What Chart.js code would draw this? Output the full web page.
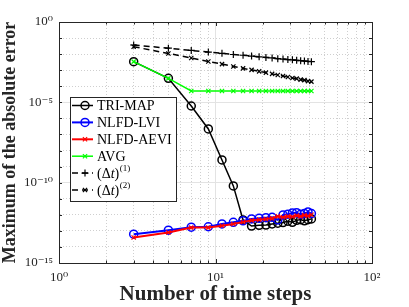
<!DOCTYPE html>
<html>
<head>
<meta charset="utf-8">
<script src="https://cdn.jsdelivr.net/npm/chart.js@4/dist/chart.umd.min.js"></script>
<style>
html, body { margin: 0; padding: 0; background: #fff; }
</style>
</head>
<body>
<canvas id="myChart" width="409" height="307"></canvas>
<script>
// number of time steps
const steps = [3, 5, 7, 9, 11, 13, 15, 17, 19, 21, 23, 25, 27, 29, 31, 33, 35, 37, 39, 41];

const triMap = [3.4e-3, 3.1e-4, 5.9e-6, 2.2e-7, 2.6e-9, 6.3e-11, 4.8e-13, 2.0e-13, 2.2e-13, 2.3e-13,
  2.7e-13, 3.0e-13, 3.3e-13, 4.0e-13, 3.4e-13, 4.5e-13, 5.0e-13, 4.2e-13, 5.0e-13, 5.5e-13];
const nlfdLvi = [6.2e-14, 1.1e-13, 1.7e-13, 1.8e-13, 2.7e-13, 3.4e-13, 4.2e-13, 5.5e-13, 6.0e-13, 6.6e-13,
  7.0e-13, 4.8e-13, 9.8e-13, 1.1e-12, 1.3e-12, 1.35e-12, 1.07e-12, 1.2e-12, 1.5e-12, 1.2e-12];
const nlfdAevi = [3.9e-14, 8.0e-14, 1.6e-13, 1.6e-13, 2.1e-13, 2.7e-13, 3.6e-13, 4.5e-13, 5.0e-13, 5.5e-13,
  6.0e-13, 8.0e-13, 7.0e-13, 8.0e-13, 7.5e-13, 9.0e-13, 8.0e-13, 9.5e-13, 8.5e-13, 1.0e-12];
const avg = [3.4e-3, 3.1e-4, 5.1e-5, 5.1e-5, 5.1e-5, 5.1e-5, 5.1e-5, 5.1e-5, 5.1e-5, 5.1e-5,
  5.1e-5, 5.1e-5, 5.1e-5, 5.1e-5, 5.1e-5, 5.1e-5, 5.1e-5, 5.1e-5, 5.1e-5, 5.1e-5];
const dt1 = [0.037, 0.0234, 0.0170, 0.0135, 0.0112, 0.0095, 0.0085, 0.0076, 0.0068, 0.0062,
  0.0058, 0.0052, 0.0049, 0.0046, 0.0044, 0.0041, 0.0039, 0.0037, 0.0035, 0.0034];
const dt2 = [0.029, 0.011, 0.0058, 0.0035, 0.0024, 0.0017, 0.0013, 0.00105, 0.00085, 0.00071,
  0.00059, 0.0005, 0.00044, 0.00038, 0.00033, 0.0003, 0.00026, 0.00024, 0.00021, 0.000195];

// tick values
const xTicks = [1, 2, 3, 4, 5, 6, 7, 8, 9, 10, 20, 30, 40, 50, 60, 70, 80, 90, 100];
const xLabels = [1, 10, 100];
const yTicks = [1e-15, 1e-14, 1e-13, 1e-12, 1e-11, 1e-10, 1e-9, 1e-8, 1e-7, 1e-6, 1e-5, 1e-4, 1e-3, 1e-2, 1e-1, 1];
const yLabels = [1e-15, 1e-10, 1e-5, 1];

const serif = "'Liberation Serif', 'DejaVu Serif', serif";

function sup(n) {
  const map = {'-': '⁻', '0': '⁰', '1': '¹', '2': '²', '3': '³', '4': '⁴', '5': '⁵', '6': '⁶', '7': '⁷', '8': '⁸', '9': '⁹'};
  return String(n).split('').map(c => map[c]).join('');
}
function expOf(v) { return Math.round(Math.log10(v)); }
function pts(ys) { return steps.map((s, i) => ({x: s, y: ys[i]})); }

// later series are drawn on top, like matlab does
let drawOrder = 0;
function series(label, ys, color, style, radius, width, dash) {
  drawOrder -= 1;
  return {
    label: label,
    data: pts(ys),
    order: drawOrder,
    borderColor: color,
    backgroundColor: color,
    borderWidth: width,
    borderDash: dash || [],
    pointStyle: style,
    pointRadius: radius,
    pointBorderColor: color,
    pointBackgroundColor: 'rgba(0,0,0,0)',
    pointBorderWidth: style === 'circle' ? 1.5 : 1.2,
    tension: 0
  };
}

// box round the axes, inside ticks and the legend
const extras = {
  id: 'extras',
  afterDraw(chart) {
    const c = chart.ctx;
    const a = chart.chartArea;
    const xs = chart.scales.x, ys = chart.scales.y;
    c.save();
    c.strokeStyle = '#262626';
    c.lineWidth = 1;
    c.beginPath();
    xTicks.forEach(v => {
      const px = Math.round(xs.getPixelForValue(v)) + 0.5;
      const len = xLabels.includes(v) ? 4 : 2.5;
      c.moveTo(px, a.bottom); c.lineTo(px, a.bottom - len);
      c.moveTo(px, a.top); c.lineTo(px, a.top + len);
    });
    yTicks.forEach(v => {
      const py = Math.round(ys.getPixelForValue(v)) + 0.5;
      c.moveTo(a.left, py); c.lineTo(a.left + 3, py);
      c.moveTo(a.right, py); c.lineTo(a.right - 3, py);
    });
    c.stroke();
    c.strokeRect(Math.round(a.left) + 0.5, Math.round(a.top) + 0.5, Math.round(a.right - a.left), Math.round(a.bottom - a.top));

    // legend
    const lx = a.left + 11, ly = a.top + 75, lw = 106, lh = 104;
    c.fillStyle = '#fff';
    c.fillRect(lx, ly, lw, lh);
    c.strokeStyle = '#262626';
    c.lineWidth = 1;
    c.strokeRect(Math.round(lx) + 0.5, Math.round(ly) + 0.5, lw, lh);
    chart.data.datasets.forEach((ds, i) => {
      const cy = ly + 8.5 + i * 16.9;
      c.save();
      c.strokeStyle = ds.borderColor;
      c.lineWidth = ds.borderWidth;
      c.setLineDash(ds.borderDash);
      c.beginPath();
      c.moveTo(lx + 2, cy); c.lineTo(lx + 23, cy);
      c.stroke();
      c.setLineDash([]);
      c.lineWidth = ds.pointBorderWidth;
      c.fillStyle = 'rgba(0,0,0,0)';
      Chart.helpers.drawPoint(c, {pointStyle: ds.pointStyle, radius: ds.pointRadius, borderWidth: ds.pointBorderWidth}, lx + 15, cy);
      c.restore();
      c.fillStyle = '#000';
      c.textBaseline = 'middle';
      c.textAlign = 'left';
      const tx = lx + 27;
      if (i < 4) {
        c.font = '14px ' + serif;
        c.fillText(ds.label, tx, cy + 1);
      } else {
        c.font = '14px ' + serif;
        let x = tx;
        c.fillText('(Δ', x, cy + 1); x += c.measureText('(Δ').width;
        c.font = 'italic 14px ' + serif;
        c.fillText('t', x, cy + 1); x += c.measureText('t').width;
        c.font = '14px ' + serif;
        c.fillText(')', x, cy + 1); x += c.measureText(')').width + 0.5;
        c.font = '9px ' + serif;
        c.fillText(i === 4 ? '(1)' : '(2)', x, cy - 4);
      }
    });
    c.restore();
  }
};

const ctx = document.getElementById('myChart');

const myChart = new Chart(ctx, {
  type: 'line',
  data: {
    datasets: [
      series('TRI-MAP', triMap, '#000000', 'circle', 4, 1.5),
      series('NLFD-LVI', nlfdLvi, '#0000ff', 'circle', 4, 2),
      series('NLFD-AEVI', nlfdAevi, '#ff0000', 'crossRot', 3, 2),
      series('AVG', avg, '#00ff00', 'crossRot', 3, 1.5),
      series('(Δt)^(1)', dt1, '#000000', 'cross', 3.5, 1.5, [6, 4]),
      series('(Δt)^(2)', dt2, '#000000', 'crossRot', 3, 1.5, [6, 4])
    ]
  },
  options: {
    responsive: false,
    animation: false,
    layout: { padding: { left: 0, top: 22, right: 37, bottom: 0 } },
    plugins: {
      legend: { display: false },
      tooltip: { enabled: false }
    },
    scales: {
      x: {
        type: 'logarithmic',
        min: 1,
        max: 100,
        afterBuildTicks: s => { s.ticks = xTicks.map(v => ({value: v})); },
        afterFit: s => { s.height = 44; },
        ticks: {
          autoSkip: false,
          maxRotation: 0,
          padding: 7,
          color: '#262626',
          font: { family: serif, size: 13 },
          callback: v => xLabels.includes(v) ? '10' + sup(expOf(v)) : ''
        },
        grid: {
          drawTicks: false,
          color: c => (c.tick && xLabels.includes(c.tick.value)) ? '#e3e3e3' : '#cfcfcf',
          lineWidth: 1
        },
        border: {
          color: '#262626',
          dash: c => (c.tick && !xLabels.includes(c.tick.value)) ? [1, 2] : []
        },
        title: {
          display: true,
          text: 'Number of time steps',
          color: '#262626',
          font: { family: serif, size: 21, weight: 'bold' },
          padding: { top: 0, bottom: 0 }
        }
      },
      y: {
        type: 'logarithmic',
        min: 1e-15,
        max: 1,
        afterBuildTicks: s => { s.ticks = yTicks.map(v => ({value: v})); },
        afterFit: s => { s.width = 59; },
        ticks: {
          autoSkip: false,
          padding: 6,
          color: '#262626',
          font: { family: serif, size: 13 },
          callback: v => yLabels.some(l => Math.abs(Math.log10(l) - Math.log10(v)) < 0.01) ? '10' + sup(expOf(v)) : ''
        },
        grid: {
          drawTicks: false,
          color: c => (c.tick && expOf(c.tick.value) % 5 === 0) ? '#e3e3e3' : '#cfcfcf',
          lineWidth: 1
        },
        border: {
          color: '#262626',
          dash: c => (c.tick && expOf(c.tick.value) % 5 !== 0) ? [1, 2] : []
        },
        title: {
          display: true,
          text: 'Maximum of the absolute error',
          color: '#262626',
          font: { family: serif, size: 18, weight: 'bold' },
          padding: { top: 0, bottom: 0 }
        }
      }
    }
  },
  plugins: [extras]
});
</script>
</body>
</html>
